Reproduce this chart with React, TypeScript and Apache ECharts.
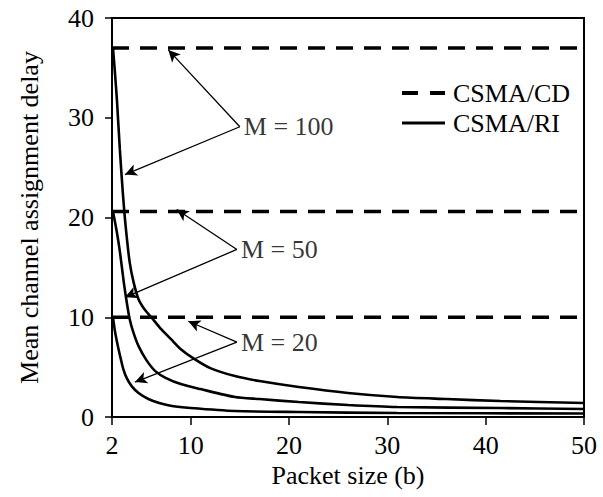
import React, { useEffect, useRef } from "react";
import * as echarts from "echarts";

// CSMA/CD (dashed, constant) for M = 100, 50, 20
const cdX = [2, 50];
const cdM100 = [37, 37];
const cdM50 = [20.6, 20.6];
const cdM20 = [10, 10];

// CSMA/RI (solid) curves
const riX100 = [2.1, 2.3, 2.5, 2.8, 3.1, 3.4, 3.8, 4.2, 4.7, 5.3, 6, 7, 8, 9, 10.4, 12, 14.5, 17, 21, 26, 31, 36, 41.5, 50];
const riM100 = [37, 34.5, 31.8, 26.8, 22.5, 19, 15.5, 13.5, 11.8, 10.8, 10.0, 8.8, 7.8, 6.8, 5.8, 4.9, 4.1, 3.6, 3.0, 2.4, 2.0, 1.8, 1.6, 1.4];
const riX50 = [2.1, 2.5, 2.8, 3.2, 3.5, 3.8, 4.2, 4.7, 5.5, 6.4, 7.5, 9, 11, 14.5, 17, 21, 26, 31, 41.5, 50];
const riM50 = [20.6, 18.5, 16.6, 13.5, 11.5, 9.8, 8.4, 7.1, 5.7, 4.6, 3.9, 3.3, 2.8, 2.0, 1.8, 1.5, 1.2, 1.0, 0.9, 0.8];
const riX20 = [2.1, 2.3, 2.6, 2.9, 3.15, 3.5, 4, 4.7, 5.7, 6.8, 8.1, 10, 14.5, 21, 31, 50];
const riM20 = [10, 8.6, 7.1, 5.8, 4.8, 3.9, 3.1, 2.4, 1.8, 1.4, 1.1, 0.9, 0.6, 0.5, 0.4, 0.35];

const xTicks = [2, 10, 20, 30, 40, 50];
const yTicks = [0, 10, 20, 30, 40];

// annotations: label, vertex (data coords), arrow targets
const annotLabels = ["M = 100", "M = 50", "M = 20"];
const annotVertex = [
  [15.0, 29.1],
  [14.7, 16.8],
  [14.7, 7.5],
];
const annotTargets = [
  [[7.73, 36.8], [3.32, 24.3]],
  [[8.58, 20.8], [3.32, 12.0]],
  [[9.76, 9.6], [4.34, 3.5]],
];

const FONT = "Liberation Serif";
const TXT = "#000";

const zip = (xs: number[], ys: number[]) => xs.map((x, i) => [x, ys[i]]);

export default function App() {
  const ref = useRef<HTMLDivElement>(null);
  useEffect(() => {
    document.body.style.margin = "0";
    if (!ref.current) return;
    const chart = echarts.init(ref.current, null, { renderer: "svg" });
    const dashed = { color: "#000", width: 3.5, type: [17, 11] as any };
    const solid = { color: "#000", width: 2.6, type: "solid" as const };
    const cdSeries = [cdM100, cdM50, cdM20].map((ys) => ({
      name: "CSMA/CD",
      type: "line",
      data: zip(cdX, ys),
      showSymbol: false,
      symbol: "none",
      lineStyle: dashed,
      itemStyle: { color: "#000" },
    }));
    const riSeries = [
      [riX100, riM100],
      [riX50, riM50],
      [riX20, riM20],
    ].map(([xs, ys]) => ({
      name: "CSMA/RI",
      type: "line",
      data: zip(xs, ys),
      showSymbol: false,
      symbol: "none",
      smooth: 0.25,
      lineStyle: solid,
      itemStyle: { color: "#000" },
    }));
    const arrowData: any[] = [];
    annotVertex.forEach((v, i) => {
      annotTargets[i].forEach((t) => {
        arrowData.push([{ coord: v }, { coord: t }]);
      });
    });
    chart.setOption({
      animation: false,
      backgroundColor: "#fff",
      grid: {
        left: 112,
        right: 19,
        top: 18,
        bottom: 80,
        show: true,
        borderColor: "#000",
        borderWidth: 2,
      },
      legend: {
        data: [
          { name: "CSMA/CD", icon: "path://M0,0H16V4H0Z M28,0H43V4H28Z" },
          { name: "CSMA/RI", icon: "path://M0,0H43V3H0Z" },
        ],
        orient: "vertical",
        left: 397,
        top: 75,
        itemWidth: 43,
        itemHeight: 4,
        itemGap: 4,
        textStyle: { fontFamily: FONT, fontSize: 26, color: TXT, padding: [0, 0, 0, 3] },
      },
      xAxis: {
        type: "value",
        min: 2,
        max: 50,
        name: "Packet size (b)",
        nameLocation: "middle",
        nameGap: 40,
        nameTextStyle: { fontFamily: FONT, fontSize: 26, color: TXT },
        axisLine: { lineStyle: { color: "#000", width: 2 } },
        axisTick: { show: true, length: 8, customValues: xTicks, lineStyle: { color: "#000", width: 1.5 } },
        axisLabel: { customValues: xTicks, margin: 15, fontFamily: FONT, fontSize: 26, color: TXT },
        splitLine: { show: false },
      },
      yAxis: {
        type: "value",
        min: 0,
        max: 40,
        interval: 10,
        name: "Mean channel assignment delay",
        nameLocation: "middle",
        nameGap: 70,
        nameTextStyle: { fontFamily: FONT, fontSize: 26, color: TXT },
        axisLine: { show: true, lineStyle: { color: "#000", width: 2 } },
        axisTick: { show: true, length: 7, lineStyle: { color: "#000", width: 1.5 } },
        axisLabel: {
          margin: 18,
          fontFamily: FONT,
          fontSize: 26,
          color: TXT,
          formatter: (v: number) => (yTicks.includes(v) ? String(v) : ""),
        },
        splitLine: { show: false },
      },
      series: [
        ...cdSeries,
        ...riSeries,
        {
          name: "annot",
          type: "scatter",
          symbolSize: 0,
          silent: true,
          data: annotVertex.map((v, i) => ({ value: v, name: annotLabels[i] })),
          label: {
            show: true,
            position: "right",
            distance: 4,
            formatter: "{b}",
            fontFamily: FONT,
            fontSize: 26,
            color: TXT,
          },
          markLine: {
            silent: true,
            symbol: ["none", "arrow"],
            symbolSize: [9, 12],
            label: { show: false },
            lineStyle: { color: "#000", width: 1.3, type: "solid" },
            data: arrowData,
          },
        },
      ],
    });
    return () => chart.dispose();
  }, []);
  return <div ref={ref} style={{ width: 603, height: 497 }} />;
}
